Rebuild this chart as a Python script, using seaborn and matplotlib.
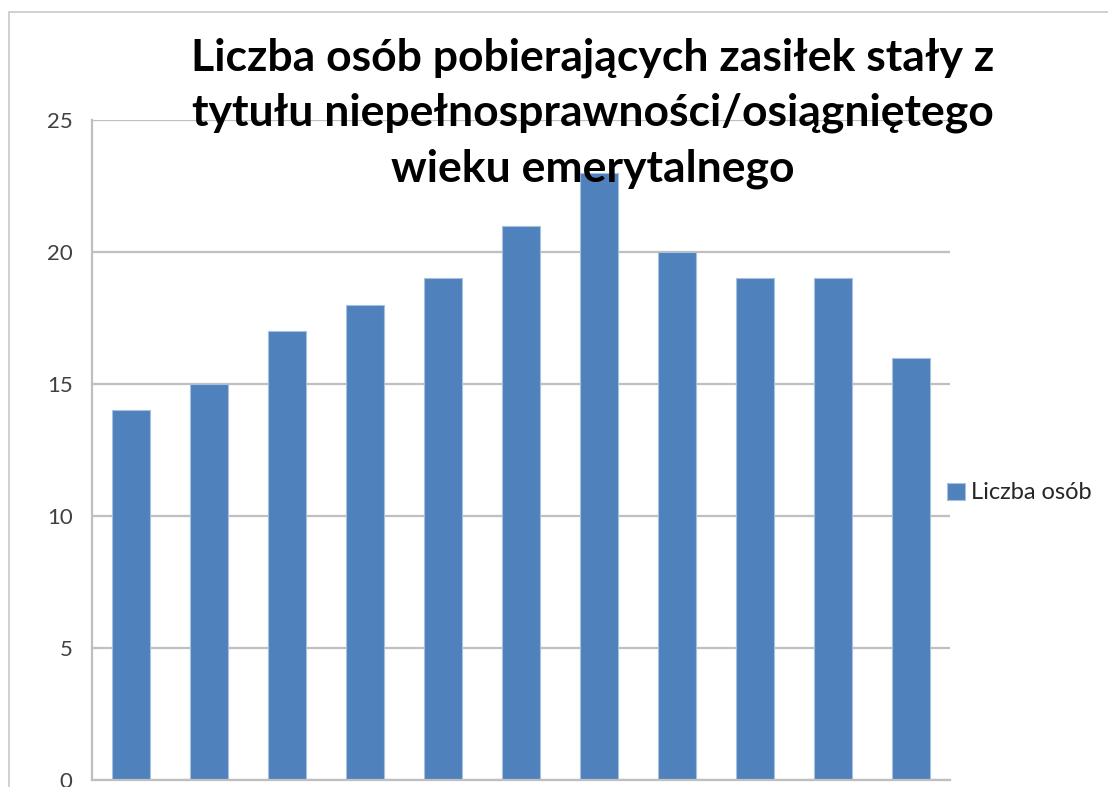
import numpy as np
import pandas as pd
import matplotlib
matplotlib.use("Agg")
import matplotlib.pyplot as plt
import seaborn as sns
from matplotlib.patches import Rectangle

# data
categories = ["1", "2", "3", "4", "5", "6", "7", "8", "9", "10", "11"]
values = [14, 15, 17, 18, 19, 21, 23, 20, 19, 19, 16]
y_ticks = [0, 5, 10, 15, 20, 25]
series_name = "Liczba osób"
title = ("Liczba osób pobierających zasiłek stały z\n"
         "tytułu niepełnosprawności/osiągniętego\n"
         "wieku emerytalnego")

sns.set_style("white")
plt.rcParams['font.family'] = ['Lato', 'DejaVu Sans']

bar_color = "#4F81BD"
grid_color = "#BFBFBF"

df = pd.DataFrame({"kategoria": categories, "liczba": values})

fig = plt.figure(figsize=(11.08, 7.87), dpi=100)
ax = fig.add_axes([92 / 1108, 7 / 787, (950 - 92) / 1108, (780 - 120) / 787])

sns.barplot(data=df, x="kategoria", y="liczba", color=bar_color,
            width=0.49, saturation=1, label=series_name, ax=ax,
            edgecolor="#A7C0DE", linewidth=0.8)

ax.set_ylim(0, 25)
ax.set_xlim(-0.5, len(categories) - 0.5)
ax.set_yticks(y_ticks)
ax.set_yticklabels([str(t) for t in y_ticks], fontsize=16, color="#404040")
ax.tick_params(axis="y", length=0, pad=14)
ax.set_xticks([])
ax.set_xlabel("")
ax.set_ylabel("")
ax.yaxis.grid(True, color=grid_color, linewidth=1.6)
ax.set_axisbelow(True)
for side in ["top", "right"]:
    ax.spines[side].set_visible(False)
ax.spines["left"].set_color(grid_color)
ax.spines["left"].set_linewidth(1.6)
ax.spines["bottom"].set_color(grid_color)
ax.spines["bottom"].set_linewidth(1.6)

if ax.legend_:
    ax.legend_.remove()
handles, labels = ax.get_legend_handles_labels()
fig.legend(handles[:1], labels[:1], loc="center left",
           bbox_to_anchor=(947 / 1108, 1 - 493 / 787), frameon=False,
           fontsize=17, handlelength=0.75, handleheight=0.75,
           handletextpad=0.25, borderaxespad=0, borderpad=0)

fig.text(593 / 1108, 1 - 113 / 787, title, ha="center", va="center",
         fontsize=32, fontweight="bold", linespacing=1.45, color="black")

# thin frame around the chart area (cut at right and bottom)
fig.patches.append(Rectangle((9 / 1108, -0.1), 1.2, 1 - 12 / 787 + 0.1,
                             transform=fig.transFigure, fill=False,
                             edgecolor="#C8C8C8", linewidth=1.2))

fig.savefig("out.png", dpi=100)
